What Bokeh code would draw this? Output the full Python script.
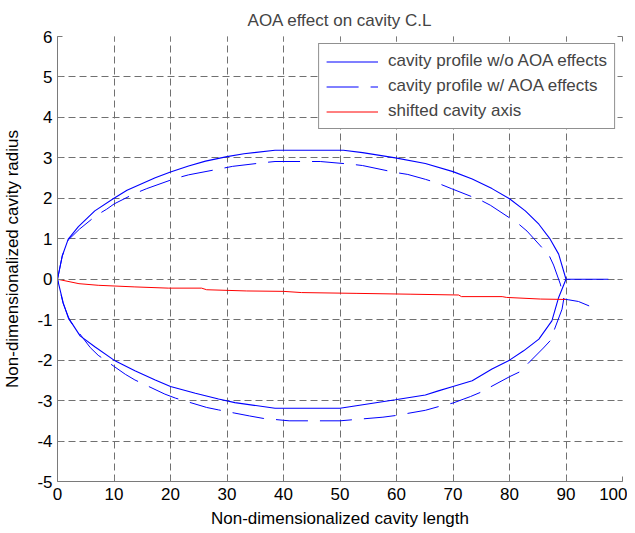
from bokeh.plotting import figure
from bokeh.models import Range1d, FixedTicker, LinearAxis, CustomJSTickFormatter, Legend, LegendItem
from bokeh.embed import file_html
from bokeh.resources import INLINE

# ---- data ----
x_ticks = [0, 10, 20, 30, 40, 50, 60, 70, 80, 90, 100]
y_ticks = [-5, -4, -3, -2, -1, 0, 1, 2, 3, 4, 5, 6]

# cavity profile without AOA effects (solid)
plain_upper_x = [0, 0.85, 1.9, 3.7, 6.6, 10, 12.3, 17.3, 20, 23.2, 26.2, 30, 33, 38.5, 50.6, 54, 59.8,
                 65.1, 70, 73.4, 76.9, 80, 82.8, 85.2, 87.2, 88.7, 90]
plain_upper_y = [0, 0.58, 0.99, 1.3, 1.69, 2.0, 2.2, 2.51, 2.65, 2.8, 2.92, 3.03, 3.1, 3.19, 3.19, 3.13, 3.0,
                 2.86, 2.66, 2.48, 2.24, 1.99, 1.69, 1.36, 0.99, 0.62, 0]
plain_lower_x = [0, 1.0, 1.9, 4.0, 6.6, 10, 13.7, 17.3, 20, 24.4, 28.5, 31.4, 38.5, 50, 59.8, 65.1, 67.4,
                 70, 73.4, 76.9, 80, 82.5, 85.2, 87.5, 88.7, 90]
plain_lower_y = [0, -0.58, -0.95, -1.4, -1.67, -2.0, -2.26, -2.49, -2.65, -2.82, -2.96, -3.05, -3.19, -3.19,
                 -2.98, -2.86, -2.76, -2.65, -2.51, -2.22, -2.0, -1.77, -1.48, -1.03, -0.45, 0]
plain_tail_x = [90, 97.5]
plain_tail_y = [0, 0]

# cavity profile with AOA effects (dashed)
aoa_upper_x = [0, 0.85, 1.9, 3.9, 6.9, 8.7, 10, 13.7, 15.8, 20.8, 23.2, 28.8, 31, 36.4, 38.5, 46.5, 52.2,
               54, 59.8, 62, 65.1, 67.4, 69.7, 74.8, 76.6, 81.5, 83.1, 87, 87.8, 89, 89.6]
aoa_upper_y = [0, 0.58, 0.97, 1.24, 1.58, 1.73, 1.86, 2.12, 2.24, 2.49, 2.58, 2.73, 2.79, 2.88, 2.91, 2.91,
               2.84, 2.81, 2.64, 2.59, 2.47, 2.37, 2.24, 1.96, 1.83, 1.38, 1.19, 0.59, 0.35, -0.12, -0.49]
aoa_lower_x = [0, 1.0, 2.2, 5.8, 7.2, 12, 13.7, 19, 20.9, 26.4, 28.5, 31.4, 34, 36.4, 41, 50, 57.6, 59.8,
               65.1, 67.4, 70, 73.1, 74.8, 80, 81.8, 86, 87.2, 89.3, 89.6]
aoa_lower_y = [0, -0.6, -1.03, -1.69, -1.88, -2.35, -2.49, -2.84, -2.94, -3.17, -3.23, -3.31, -3.38, -3.44,
               -3.5, -3.5, -3.41, -3.37, -3.24, -3.15, -3.06, -2.9, -2.8, -2.41, -2.29, -1.7, -1.52, -0.74, -0.49]
aoa_tail_x = [89.6, 90.5, 92.2, 94.1]
aoa_tail_y = [-0.49, -0.51, -0.55, -0.66]

# shifted cavity axis (red)
axis_x = [0, 3.8, 7.2, 13.7, 19.6, 25.5, 26.4, 33.5, 40, 43.2, 53, 62.4, 71, 71.5, 78.7, 79.5, 85.5, 89.9]
axis_y = [0, -0.11, -0.15, -0.19, -0.22, -0.22, -0.26, -0.29, -0.3, -0.33, -0.35, -0.37, -0.39, -0.43,
          -0.43, -0.45, -0.49, -0.5]

labels = ["cavity profile w/o AOA effects", "cavity profile w/ AOA effects", "shifted cavity axis"]

FONT = "Liberation Sans"

p = figure(frame_width=565, frame_height=445, output_backend="svg", toolbar_location=None,
           x_range=Range1d(0, 100), y_range=Range1d(-5, 6),
           min_border_left=51, min_border_right=5, min_border_top=36, min_border_bottom=47,
           background_fill_color="white", border_fill_color="white")
p.outline_line_color = None

p.title.text = "AOA effect on cavity C.L"
p.title.text_font = FONT
p.title.text_font_size = "17px"
p.title.text_font_style = "normal"
p.title.align = "center"
p.title.standoff = 14

plain_fmt = CustomJSTickFormatter(code="return tick.toString()")

for ax in (p.xaxis[0], p.yaxis[0]):
    ax.major_tick_in = 5
    ax.major_tick_out = 0
    ax.minor_tick_line_color = None
    ax.axis_line_color = "#7a7a7a"
    ax.major_tick_line_color = "#7a7a7a"
    ax.major_label_text_font = FONT
    ax.major_label_text_font_size = "17px"
    ax.major_label_text_color = "black"
    ax.axis_label_text_font = FONT
    ax.axis_label_text_font_size = "17px"
    ax.axis_label_text_font_style = "normal"
    ax.axis_label_text_color = "black"
    ax.formatter = plain_fmt

p.xaxis[0].ticker = FixedTicker(ticks=x_ticks)
p.yaxis[0].ticker = FixedTicker(ticks=y_ticks)
p.xaxis[0].axis_label = "Non-dimensionalized cavity length"
p.yaxis[0].axis_label = "Non-dimensionalized cavity radius"
p.xaxis[0].major_label_standoff = 6
p.xaxis[0].axis_label_standoff = 6
p.yaxis[0].major_label_standoff = 5
p.yaxis[0].axis_label_standoff = 12

blank = CustomJSTickFormatter(code="return ''")
top_ax = LinearAxis(ticker=FixedTicker(ticks=x_ticks), formatter=blank, axis_line_alpha=0,
                    major_tick_in=5, major_tick_out=0, minor_tick_line_color=None,
                    major_tick_line_color="#7a7a7a", major_label_standoff=0,
                    major_label_text_font_size="1px")
right_ax = LinearAxis(ticker=FixedTicker(ticks=y_ticks), formatter=blank, axis_line_alpha=0,
                      major_tick_in=5, major_tick_out=0, minor_tick_line_color=None,
                      major_tick_line_color="#7a7a7a", major_label_standoff=0,
                      major_label_text_font_size="1px")
p.add_layout(top_ax, "above")
p.add_layout(right_ax, "right")

for g in (p.xgrid[0], p.ygrid[0]):
    g.grid_line_color = "#707070"
    g.grid_line_dash = "7 4"
    g.grid_line_width = 1
p.xgrid[0].ticker = FixedTicker(ticks=x_ticks)
p.ygrid[0].ticker = FixedTicker(ticks=y_ticks)

# solid profile: lower (reversed) + upper + tail as one path
sx = plain_lower_x[::-1] + plain_upper_x[1:] + plain_tail_x[1:]
sy = plain_lower_y[::-1] + plain_upper_y[1:] + plain_tail_y[1:]
r1 = p.line(sx, sy, line_color="#0000ff", line_width=1.1)

dx = aoa_lower_x[::-1] + aoa_upper_x[1:] + aoa_tail_x[1:]
dy = aoa_lower_y[::-1] + aoa_upper_y[1:] + aoa_tail_y[1:]
r2 = p.line(dx, dy, line_color="#0000ff", line_width=1.0, line_dash="32 12")

r3 = p.line(axis_x, axis_y, line_color="#ff0000", line_width=1.0)

legend = Legend(items=[LegendItem(label=labels[0], renderers=[r1]),
                       LegendItem(label=labels[1], renderers=[r2]),
                       LegendItem(label=labels[2], renderers=[r3])],
                location="top_right", margin=7, padding=7, spacing=5,
                glyph_width=52, glyph_height=19, label_height=19, label_standoff=10,
                label_text_font=FONT, label_text_font_size="17px",
                border_line_color="#222222", border_line_width=1,
                background_fill_color="white", background_fill_alpha=1)
p.add_layout(legend, "center")

open("out.html", "w").write(file_html(p, INLINE))
